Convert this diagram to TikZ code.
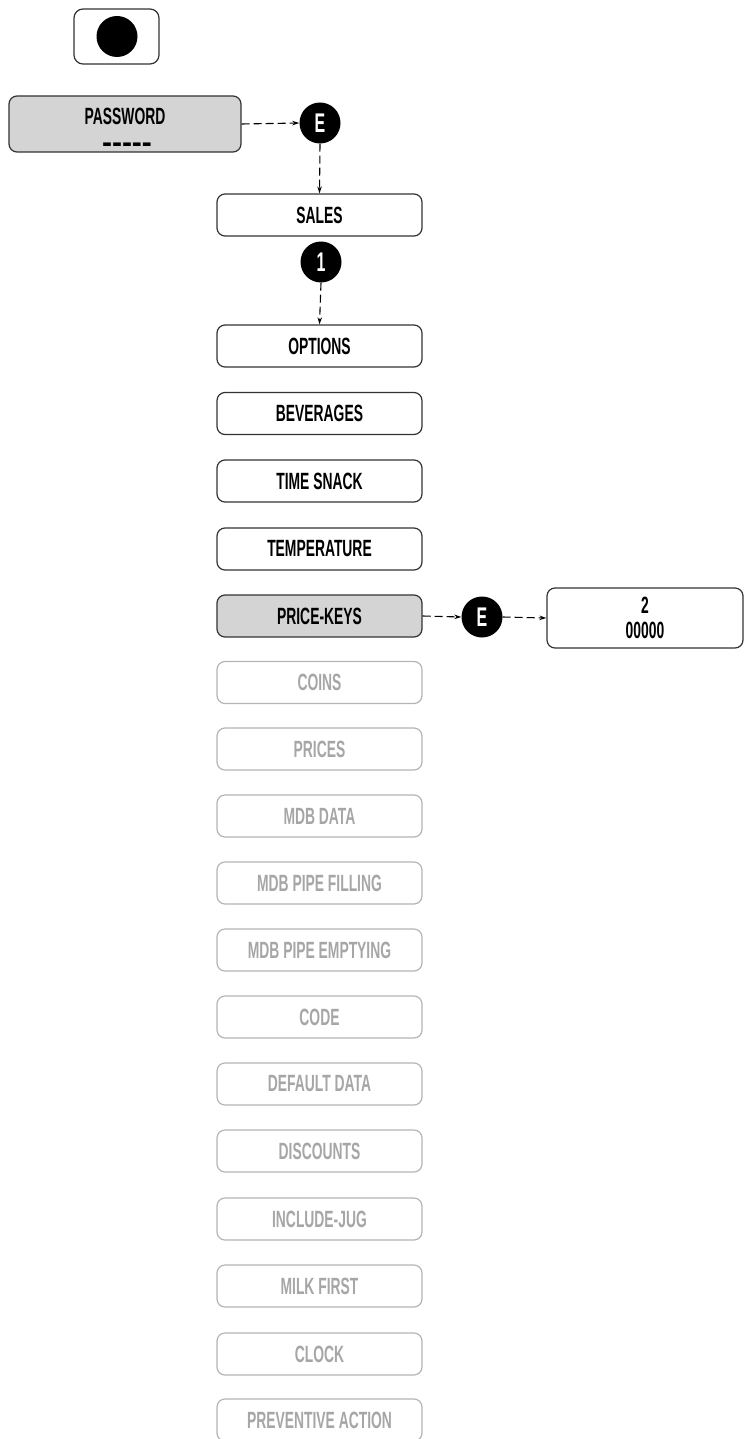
\documentclass[tikz,border=0pt]{standalone}
\usepackage{fontspec}
\usetikzlibrary{arrows.meta}
\newfontfamily\cond{Liberation Sans}[FakeStretch=0.59]
\newfontfamily\plainsans{Liberation Sans}
\definecolor{boxline}{HTML}{333333}
\definecolor{paleline}{HTML}{B4B4B4}
\definecolor{paletext}{HTML}{A6A6A6}
\definecolor{selfill}{HTML}{D4D4D4}
\tikzset{
  menubox/.style={draw=boxline, line width=1.2pt, rounded corners=8pt,
    minimum width=205pt, minimum height=42pt, inner sep=0pt,
    font=\cond\bfseries\fontsize{23.5}{25}\selectfont, text=black},
  palebox/.style={menubox, draw=paleline, text=paletext},
  selbox/.style={menubox, fill=selfill},
  keydot/.style={circle, fill=black, minimum size=41pt, inner sep=0pt,
    text=white, font=\cond\bfseries\fontsize{27}{27}\selectfont},
  flow/.style={draw=black, line width=1.1pt, dash pattern=on 8pt off 4pt,
    -{Stealth[length=7pt,width=4.5pt]}},
}
\begin{document}
\begin{tikzpicture}[x=1pt,y=1pt]
\useasboundingbox (0,0) rectangle (744,-1439);
% top button
\node[draw=boxline, line width=1.2pt, rounded corners=9pt, minimum width=85pt,
      minimum height=55pt] (btn) at (116.5,-36.5) {};
\node[circle, fill=black, minimum size=41pt, inner sep=0pt] (btndot) at (117,-36.5) {};
% password
\node[selbox, minimum width=232pt, minimum height=56pt] (pwd) at (125,-124) {};
\node[font=\cond\bfseries\fontsize{23.5}{25}\selectfont, inner sep=0pt] (pwdtxt) at (125,-116) {PASSWORD};
\node[font=\plainsans\bfseries\fontsize{30}{30}\selectfont, inner sep=0pt, anchor=base] (pwddash) at (127,-153) {-----};
\node[keydot] (e1) at (320,-123) {E};
\draw[flow] (pwd.east) -- (e1.west);
% main menu
\node[menubox] (sales) at (319.5,-215) {SALES};
\draw[flow] (e1.south) -- (sales.north);
\node[keydot] (k1) at (321,-262) {1};
\node[menubox] (options) at (319.5,-346) {OPTIONS};
\draw[flow] (k1.south) -- (options.north);
\node[menubox] (bev) at (319.5,-413.5) {BEVERAGES};
\node[menubox] (snack) at (319.5,-481) {TIME SNACK};
\node[menubox] (temp) at (319.5,-549) {TEMPERATURE};
\node[selbox] (pkeys) at (319.5,-616) {PRICE-KEYS};
\node[keydot] (e2) at (482,-617) {E};
\node[draw=boxline, line width=1.2pt, rounded corners=8pt, minimum width=196pt,
      minimum height=60pt, inner sep=0pt, align=center,
      font=\cond\bfseries\fontsize{23.5}{25}\selectfont] (val) at (645,-618) {2\\00000};
\draw[flow] (pkeys.east) -- (e2.west);
\draw[flow] (e2.east) -- (val.west);
% inactive entries
\node[palebox] (coins) at (319.5,-682.5) {COINS};
\node[palebox] (prices) at (319.5,-749) {PRICES};
\node[palebox] (mdbdata) at (319.5,-816) {MDB DATA};
\node[palebox] (pipefill) at (319.5,-883) {MDB PIPE FILLING};
\node[palebox] (pipeempty) at (319.5,-950) {MDB PIPE EMPTYING};
\node[palebox] (code) at (319.5,-1017) {CODE};
\node[palebox] (defdata) at (319.5,-1084) {DEFAULT DATA};
\node[palebox] (disc) at (319.5,-1151) {DISCOUNTS};
\node[palebox] (jug) at (319.5,-1219) {INCLUDE-JUG};
\node[palebox] (milk) at (319.5,-1286) {MILK FIRST};
\node[palebox] (clock) at (319.5,-1354) {CLOCK};
\node[palebox] (prevent) at (319.5,-1420) {PREVENTIVE ACTION};
\end{tikzpicture}
\end{document}
